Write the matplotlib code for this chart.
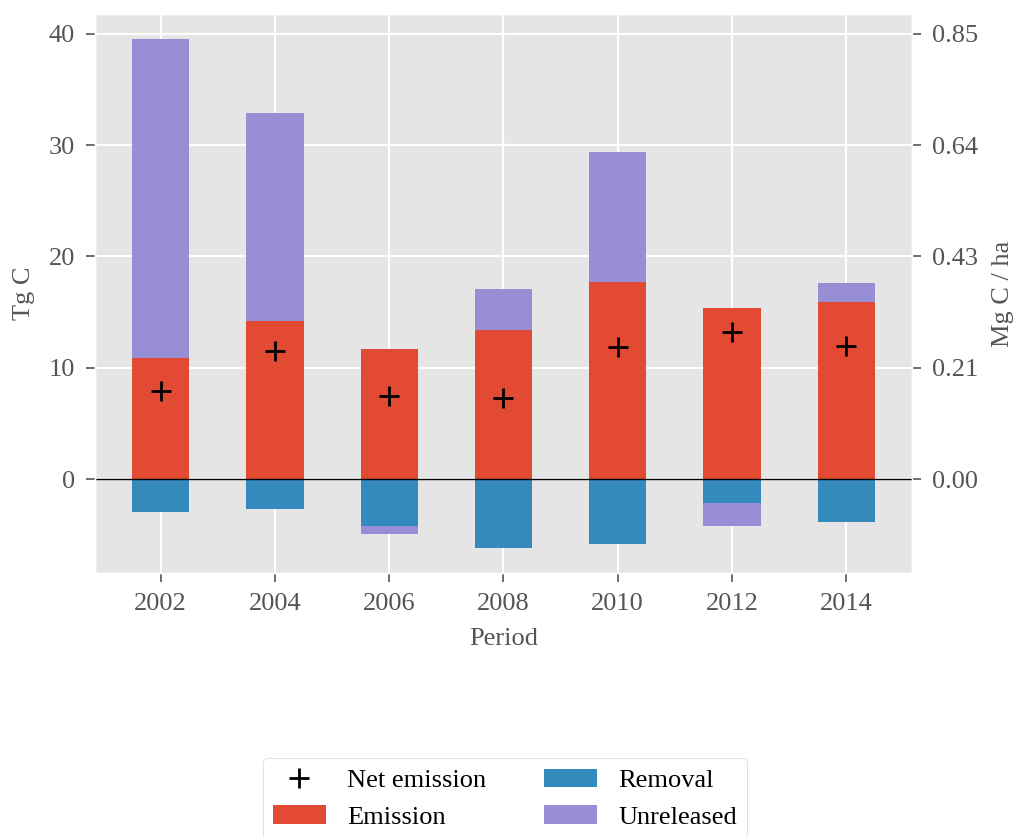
import numpy as np
import matplotlib
matplotlib.use('Agg')
import matplotlib.pyplot as plt
from matplotlib.ticker import FixedLocator

plt.style.use('ggplot')
plt.rcParams['font.family'] = ['Liberation Serif', 'DejaVu Serif']
plt.rcParams['grid.linewidth'] = 1.5

periods = ['2002', '2004', '2006', '2008', '2010', '2012', '2014']
emission = [10.9, 14.2, 11.7, 13.4, 17.7, 15.35, 15.9]
removal = [-2.95, -2.7, -4.2, -6.15, -5.85, -2.1, -3.85]
unreleased = [28.6, 18.7, -0.7, 3.65, 11.7, -2.1, 1.7]
net_emission = [7.95, 11.5, 7.45, 7.3, 11.9, 13.2, 12.0]
area_factor = 0.02128  # Tg C -> Mg C / ha

fs = 19
fig = plt.figure(figsize=(10.16, 8.38), dpi=100)
ax = fig.add_axes([0.0935, 0.3162, 0.8041, 0.6671])

x = np.arange(len(periods))
w = 0.5
ax.bar(x, emission, w, color='#E24A33', label='Emission')
ax.bar(x, removal, w, color='#348ABD', label='Removal')
# unreleased sits on top of emission when positive, below removal when negative
base = [e if u >= 0 else r for e, r, u in zip(emission, removal, unreleased)]
ax.bar(x, unreleased, w, bottom=base, color='#988ED5', label='Unreleased')
ax.plot(x, net_emission, '+', color='black', markersize=14, mew=2,
        label='Net emission', zorder=5)
ax.axhline(0, color='black', linewidth=1)

ax.set_xticks(x)
ax.set_xticklabels(periods)
ax.set_yticks([0, 10, 20, 30, 40])
ax.tick_params(labelsize=fs, colors='#555555', length=6.5, width=1.2, pad=8)
ax.set_xlabel('Period', fontsize=fs, color='#555555', labelpad=9)
ax.set_ylabel('Tg C', fontsize=fs, color='#555555', labelpad=10)

# 右轴：单位面积
ax2 = ax.twinx()
ax2.grid(False)
ax2.set_ylim(np.array(ax.get_ylim()) * area_factor)
ax2.yaxis.set_major_locator(FixedLocator(np.array([0, 10, 20, 30, 40]) * area_factor))
ax2.set_yticklabels(['%.2f' % (v * area_factor) for v in [0, 10, 20, 30, 40]])
ax2.tick_params(labelsize=fs, colors='#555555', length=6.5, width=1.2, pad=8)
ax2.set_ylabel('Mg C / ha', fontsize=fs, color='#555555', labelpad=10)

h, l = ax.get_legend_handles_labels()
order = [l.index(n) for n in ['Net emission', 'Emission', 'Removal', 'Unreleased']]
leg = fig.legend([h[i] for i in order], [l[i] for i in order], ncol=2,
                 loc='upper center', bbox_to_anchor=(0.497, 1 - 745 / 838),
                 fontsize=fs, frameon=True, columnspacing=2.2)
leg.get_frame().set_facecolor('white')
leg.get_frame().set_edgecolor('#cccccc')

fig.savefig('out.png', dpi=100)
